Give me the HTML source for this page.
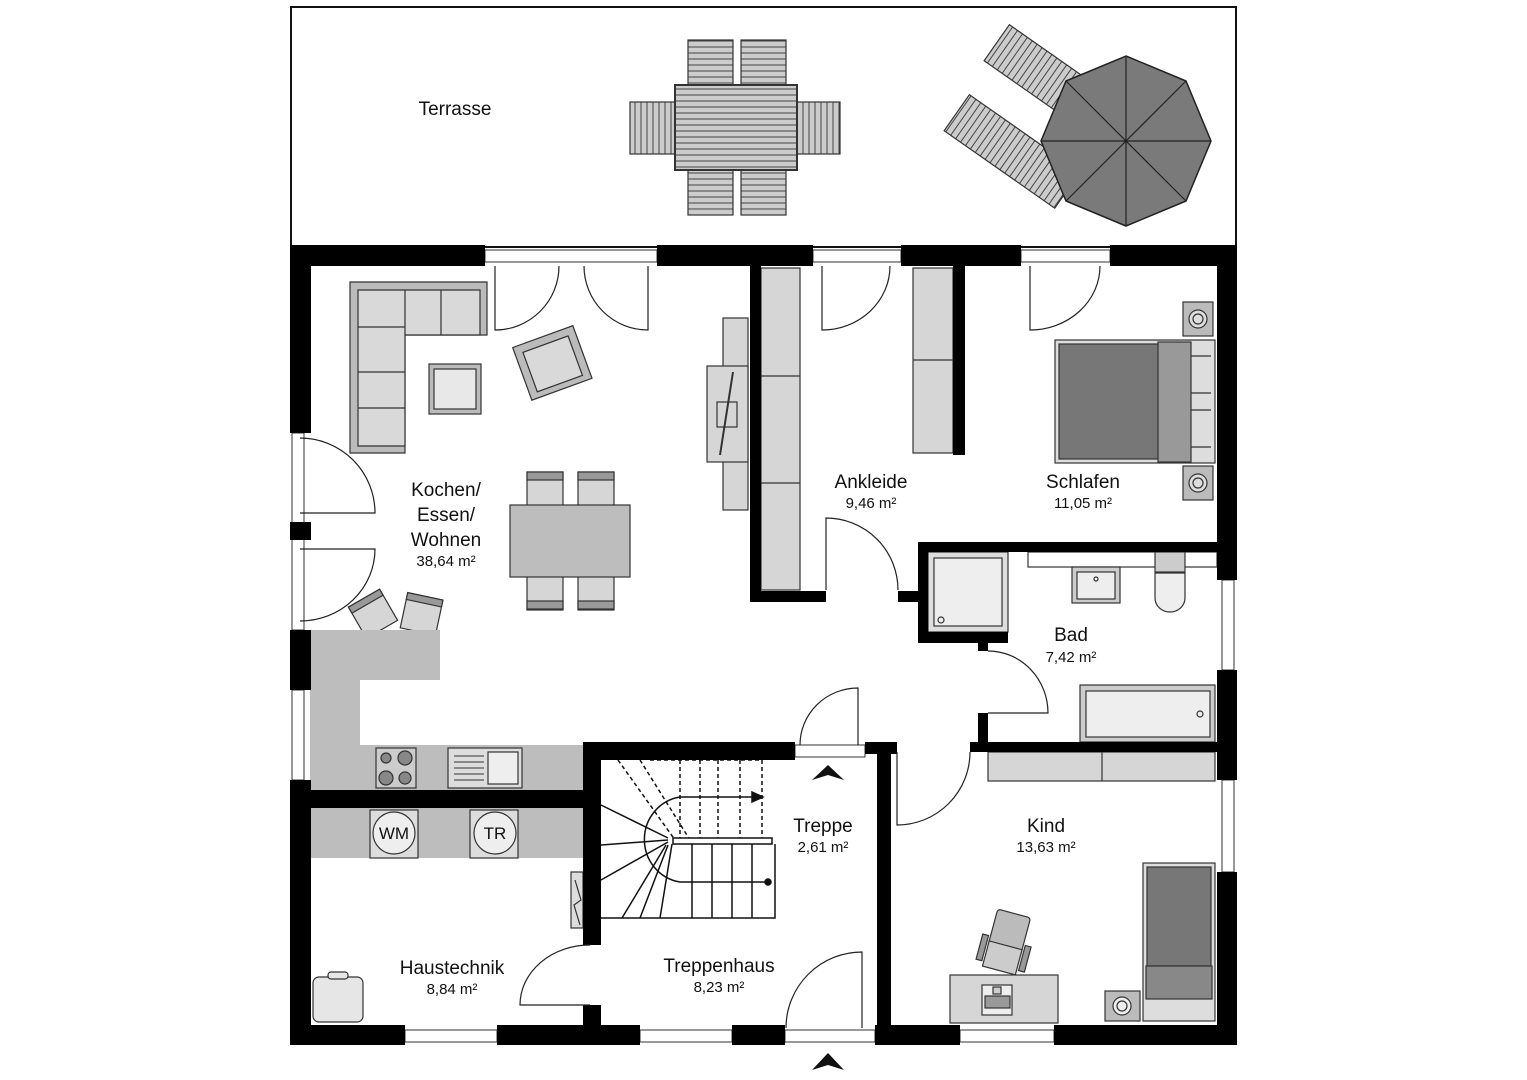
<!DOCTYPE html>
<html><head><meta charset="utf-8"><style>
html,body{margin:0;padding:0;background:#fff}
svg{display:block}
text{font-family:"Liberation Sans",sans-serif;fill:#111;text-anchor:middle}
.l{font-size:19px}.a{font-size:15px}
</style></head><body>
<svg width="1527" height="1080" viewBox="0 0 1527 1080" xmlns="http://www.w3.org/2000/svg">
<defs>
<pattern id="slH" width="6" height="6" patternUnits="userSpaceOnUse"><rect width="6" height="6" fill="#ccc"/><line x1="0" y1="5" x2="6" y2="5" stroke="#444" stroke-width="1"/></pattern>
<pattern id="slV" width="6" height="6" patternUnits="userSpaceOnUse"><rect width="6" height="6" fill="#ccc"/><line x1="5" y1="0" x2="5" y2="6" stroke="#444" stroke-width="1"/></pattern>
</defs>
<!-- terrace -->
<rect x="291" y="7" width="945" height="240" fill="#fff" stroke="#111" stroke-width="2"/>
<text class="l" x="455" y="115">Terrasse</text>
<!-- terrace table & chairs -->
<g stroke="#333" stroke-width="1.2">
<rect x="688" y="40" width="45" height="48" fill="url(#slH)"/><rect x="741" y="40" width="45" height="48" fill="url(#slH)"/>
<rect x="688" y="167" width="45" height="48" fill="url(#slH)"/><rect x="741" y="167" width="45" height="48" fill="url(#slH)"/>
<rect x="630" y="102" width="48" height="52" fill="url(#slV)"/><rect x="794" y="102" width="46" height="52" fill="url(#slV)"/>
<rect x="675" y="85" width="122" height="85" fill="url(#slH)" stroke-width="2"/>
<g transform="rotate(35 1050 80)"><rect x="985" y="58" width="135" height="44" fill="url(#slV)"/></g>
<g transform="rotate(35 1010 150)"><rect x="945" y="128" width="135" height="44" fill="url(#slV)"/></g>
<polygon points="1126,56 1186,81 1211,141 1186,201 1126,226 1066,201 1041,141 1066,81" fill="#7a7a7a" stroke="#222" stroke-width="1.5"/>
<path d="M1126 56L1126 226M1041 141L1211 141M1066 81L1186 201M1186 81L1066 201" stroke="#222"/>
</g>
<!-- furniture grey -->
<g stroke="#333" stroke-width="1.2" fill="#d6d6d6">
<!-- sofa -->
<path d="M350 282H487V335H405V453H350Z" fill="#bbb"/>
<path d="M358 290H480V335H405V446H358Z" fill="#d9d9d9"/>
<path d="M405 290V335M441 290V335M358 327H405M358 372H405M358 408H405"/>
<rect x="429" y="364" width="52" height="50" fill="#bbb"/><rect x="434" y="369" width="42" height="40" fill="#e8e8e8"/>
<g transform="rotate(-20 552 362)"><rect x="520" y="335" width="64" height="56" fill="#bbb"/><rect x="528" y="343" width="48" height="42" fill="#d9d9d9"/></g>
<rect x="723" y="318" width="25" height="192"/><rect x="707" y="366" width="41" height="96"/>
<path d="M733 372L720 455" stroke-width="2"/><rect x="717" y="402" width="20" height="25" fill="none"/>
<!-- dining -->
<rect x="527" y="472" width="36" height="34"/><rect x="578" y="472" width="36" height="34"/>
<rect x="527" y="576" width="36" height="34"/><rect x="578" y="576" width="36" height="34"/>
<rect x="527" y="472" width="36" height="8" fill="#999"/><rect x="578" y="472" width="36" height="8" fill="#999"/>
<rect x="527" y="601" width="36" height="8" fill="#999"/><rect x="578" y="601" width="36" height="8" fill="#999"/>
<rect x="510" y="505" width="120" height="72" fill="#bdbdbd"/>
<g transform="rotate(-30 372 612)"><rect x="354" y="596" width="36" height="36"/><rect x="354" y="596" width="36" height="7" fill="#999"/></g>
<g transform="rotate(12 422 612)"><rect x="404" y="596" width="36" height="36"/><rect x="404" y="596" width="36" height="7" fill="#999"/></g>
<!-- kitchen counter -->
<path d="M310 630H440V680H360V745H583V790H310Z" fill="#bdbdbd" stroke="none"/>
<rect x="376" y="748" width="40" height="40" fill="#ccc"/>
<circle cx="386" cy="758" r="5" fill="#888"/><circle cx="405" cy="758" r="7" fill="#888"/><circle cx="386" cy="778" r="7" fill="#888"/><circle cx="405" cy="778" r="6" fill="#888"/>
<rect x="448" y="748" width="74" height="40" fill="#ddd"/><rect x="488" y="752" width="30" height="32" fill="#eee"/>
<path d="M454 756H484M454 762H484M454 768H484M454 774H484M454 780H484" stroke-width="1"/>
<rect x="310" y="808" width="273" height="50" fill="#bdbdbd" stroke="none"/>
<rect x="370" y="810" width="48" height="48" fill="#ddd"/><rect x="470" y="810" width="48" height="48" fill="#ddd"/>
<circle cx="394" cy="833" r="21" fill="#eee"/><circle cx="495" cy="833" r="21" fill="#eee"/>
<rect x="313" y="977" width="50" height="45" rx="6" fill="#e6e6e6"/><rect x="328" y="972" width="20" height="7" rx="3" fill="#e6e6e6"/>
<rect x="571" y="872" width="12" height="56" fill="#ddd"/><path d="M575 880L581 900L574 905L580 925" fill="none"/>
<!-- Ankleide wardrobes -->
<rect x="761" y="268" width="39" height="322"/><path d="M761 376H800M761 483H800"/>
<rect x="913" y="268" width="40" height="185"/><path d="M913 360H953"/>
<!-- Schlafen -->
<rect x="1055" y="340" width="160" height="123" fill="#ddd"/>
<rect x="1059" y="344" width="100" height="115" fill="#777"/>
<rect x="1158" y="342" width="33" height="120" fill="#999"/>
<path d="M1191 356H1211M1191 393H1211M1191 410H1211M1191 447H1211"/>
<rect x="1183" y="302" width="30" height="34" fill="#bbb"/><circle cx="1198" cy="319" r="9" fill="#ddd"/><circle cx="1198" cy="319" r="5" fill="none"/>
<rect x="1183" y="466" width="30" height="34" fill="#bbb"/><circle cx="1198" cy="483" r="9" fill="#ddd"/><circle cx="1198" cy="483" r="5" fill="none"/>
<!-- Bad -->
<rect x="928" y="552" width="80" height="80" fill="#ddd"/><rect x="934" y="558" width="68" height="68" fill="#eee"/><circle cx="941" cy="620" r="3" fill="none"/>
<rect x="1028" y="552" width="189" height="15" fill="#fff"/>
<rect x="1072" y="567" width="48" height="36" fill="#ccc"/><rect x="1077" y="572" width="38" height="27" fill="#eee"/><circle cx="1096" cy="579" r="2" fill="none"/>
<rect x="1155" y="552" width="30" height="20" fill="#ccc"/><path d="M1155 573H1185V598A15 14 0 0 1 1155 598Z" fill="#eee"/>
<rect x="1080" y="685" width="135" height="57" fill="#ccc"/><rect x="1086" y="691" width="124" height="46" fill="#eee"/><circle cx="1200" cy="714" r="3" fill="none"/>
<!-- Kind -->
<rect x="988" y="752" width="227" height="29"/><path d="M1102 752V781"/>
<rect x="1143" y="863" width="72" height="158" fill="#ddd"/><rect x="1147" y="867" width="64" height="99" fill="#777"/><rect x="1146" y="966" width="66" height="33" fill="#888"/>
<rect x="1105" y="991" width="35" height="30" fill="#bbb"/><circle cx="1122" cy="1006" r="9" fill="#eee"/><circle cx="1122" cy="1006" r="5" fill="none"/>
<rect x="950" y="975" width="108" height="48"/>
<rect x="982" y="985" width="30" height="30" fill="#eee"/><rect x="985" y="996" width="25" height="12" fill="#999"/><rect x="993" y="987" width="8" height="7" fill="#ccc"/>
<g transform="rotate(15 1005 940)"><rect x="990" y="912" width="34" height="40" rx="3" fill="#bbb"/><rect x="990" y="945" width="34" height="26" fill="#ccc"/><rect x="982" y="940" width="6" height="26" fill="#999"/><rect x="1026" y="940" width="6" height="26" fill="#999"/></g>
</g>
<!-- stairs -->
<g stroke="#111" stroke-width="1.5" fill="none">
<path d="M618 760L675 840M640 760L690 840M680 760V838M700 760V838M718 760V838M740 760V838M762 760V838M650 760H762" stroke-dasharray="4 3"/>
<rect x="673" y="838" width="99" height="6" fill="#fff"/>
<path d="M601 918H775V844M692 844V918M712 844V918M732 844V918M752 844V918M672 844L660 918M668 845L640 918M666 845L622 918M668 842L601 880M668 840L601 845M668 838L601 805"/>
<path d="M768 882H680A42 43 0 0 1 680 797H755"/><path d="M752 792L763 797L752 802Z" fill="#111"/><circle cx="768" cy="882" r="3" fill="#111"/>
</g>
<!-- windows / door thin frames -->
<g stroke="#333" stroke-width="1" fill="#fff">
<rect x="485" y="250" width="172" height="12"/><rect x="813" y="250" width="88" height="12"/><rect x="1021" y="250" width="89" height="12"/>
<rect x="292" y="433" width="12" height="197"/><rect x="292" y="690" width="12" height="90"/>
<rect x="1222" y="580" width="12" height="90"/><rect x="1222" y="780" width="12" height="92"/>
<rect x="405" y="1030" width="92" height="12"/><rect x="640" y="1030" width="92" height="12"/><rect x="960" y="1030" width="94" height="12"/>
<rect x="795" y="745" width="70" height="12"/><rect x="785" y="1030" width="90" height="12"/>
</g>
<!-- walls -->
<g fill="#000">
<rect x="290" y="245" width="195" height="21"/><rect x="657" y="245" width="156" height="21"/><rect x="901" y="245" width="120" height="21"/><rect x="1110" y="245" width="127" height="21"/>
<rect x="290" y="245" width="21" height="188"/><rect x="290" y="522" width="21" height="18"/><rect x="290" y="630" width="21" height="60"/><rect x="290" y="780" width="21" height="265"/>
<rect x="1217" y="245" width="20" height="335"/><rect x="1217" y="670" width="20" height="110"/><rect x="1217" y="872" width="20" height="173"/>
<rect x="290" y="1025" width="115" height="20"/><rect x="497" y="1025" width="143" height="20"/><rect x="732" y="1025" width="53" height="20"/><rect x="875" y="1025" width="85" height="20"/><rect x="1054" y="1025" width="183" height="20"/>
<rect x="750" y="266" width="11" height="335"/><rect x="750" y="591" width="76" height="11"/><rect x="898" y="591" width="30" height="11"/>
<rect x="953" y="266" width="12" height="189"/>
<rect x="918" y="542" width="319" height="10"/><rect x="918" y="542" width="10" height="101"/><rect x="918" y="632" width="90" height="11"/><rect x="978" y="643" width="10" height="8"/>
<rect x="978" y="713" width="10" height="39"/><rect x="970" y="742" width="267" height="10"/>
<rect x="865" y="742" width="32" height="12"/><rect x="877" y="742" width="14" height="303"/>
<rect x="583" y="742" width="212" height="18"/><rect x="583" y="742" width="18" height="203"/><rect x="583" y="1005" width="18" height="20"/>
<rect x="310" y="790" width="291" height="18"/>
</g>
<!-- door swings -->
<g stroke="#222" stroke-width="1.2" fill="none">
<path d="M495 266V330A64 64 0 0 0 559 266"/><path d="M648 266V330A64 64 0 0 1 584 266"/>
<path d="M822 266V330A68 64 0 0 0 890 266"/><path d="M1030 266V330A70 64 0 0 0 1100 266"/>
<path d="M300 438A75 75 0 0 1 375 513H300"/><path d="M300 549H375A75 72 0 0 1 300 621"/>
<path d="M826 590V518A72 72 0 0 1 898 590"/>
<path d="M988 651A60 62 0 0 1 1048 713H988"/>
<path d="M897 752V825A73 73 0 0 0 970 752"/>
<path d="M858 745V688A58 57 0 0 0 800 745"/>
<path d="M862 1028V952A76 76 0 0 0 786 1028"/>
<path d="M590 945A70 60 0 0 0 520 1005H590"/>
</g>
<!-- entrance arrows -->
<path d="M812 780L828 765L844 780L828 775Z" fill="#111"/>
<path d="M812 1070L828 1053L844 1070L828 1065Z" fill="#111"/>
<!-- labels -->
<text class="l" x="446" y="496">Kochen/</text><text class="l" x="446" y="521">Essen/</text><text class="l" x="446" y="546">Wohnen</text><text class="a" x="446" y="566">38,64 m²</text>
<text class="l" x="871" y="488">Ankleide</text><text class="a" x="871" y="508">9,46 m²</text>
<text class="l" x="1083" y="488">Schlafen</text><text class="a" x="1083" y="508">11,05 m²</text>
<text class="l" x="1071" y="641">Bad</text><text class="a" x="1071" y="662">7,42 m²</text>
<text class="l" x="823" y="832">Treppe</text><text class="a" x="823" y="852">2,61 m²</text>
<text class="l" x="1046" y="832">Kind</text><text class="a" x="1046" y="852">13,63 m²</text>
<text class="l" x="452" y="974">Haustechnik</text><text class="a" x="452" y="994">8,84 m²</text>
<text class="l" x="719" y="972">Treppenhaus</text><text class="a" x="719" y="992">8,23 m²</text>
<text style="font-size:17px" x="394" y="839">WM</text><text style="font-size:17px" x="495" y="839">TR</text>
</svg>
</body></html>
